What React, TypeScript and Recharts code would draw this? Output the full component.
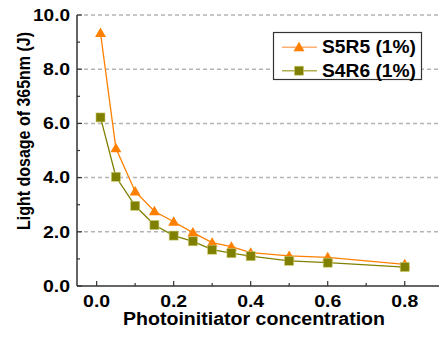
import React from 'react';
import { LineChart, Line, XAxis, YAxis, ReferenceLine } from 'recharts';

// Photoinitiator concentration (x) and light dosage (J)
const concentrations = [0.01, 0.05, 0.1, 0.15, 0.2, 0.25, 0.3, 0.35, 0.4, 0.5, 0.6, 0.8];
const s5r5 = [9.34, 5.08, 3.49, 2.76, 2.37, 1.97, 1.6, 1.45, 1.23, 1.11, 1.06, 0.8];
const s4r6 = [6.22, 4.03, 2.96, 2.25, 1.86, 1.65, 1.34, 1.21, 1.1, 0.93, 0.86, 0.7];
const seriesNames = ['S5R5 (1%)', 'S4R6 (1%)'];

const xTicks = [0, 0.1, 0.2, 0.3, 0.4, 0.5, 0.6, 0.7, 0.8];
const xMajor = [0, 0.2, 0.4, 0.6, 0.8];
const yTicks = [0, 1, 2, 3, 4, 5, 6, 7, 8, 9, 10];
const yMajor = [0, 2, 4, 6, 8, 10];
const gridValues = [2, 4, 6, 8, 10];

const ORANGE = '#ff8000';
const OLIVE = '#808000';
const AXIS = '#333333';
const FONT = '"Liberation Sans", Arial, sans-serif';

const data = concentrations.map((x, i) => ({ x, s5r5: s5r5[i], s4r6: s4r6[i] }));

const isMajor = (list: number[], v: number) => list.some((m) => Math.abs(m - v) < 1e-9);

const XTick = (props: any) => {
  const { x, y, payload } = props;
  const major = isMajor(xMajor, payload.value);
  return (
    <g>
      <line x1={x} x2={x} y1={y} y2={y - (major ? 5 : 3)} stroke={AXIS} strokeWidth={1.2} />
      {major && (
        <text x={x} y={y + 20.7} textAnchor="middle" fontFamily={FONT} fontWeight="bold" fontSize={16}
          textLength={27} lengthAdjust="spacingAndGlyphs" fill="#000">
          {payload.value.toFixed(1)}
        </text>
      )}
    </g>
  );
};

const YTick = (props: any) => {
  const { x, y, payload } = props;
  const major = isMajor(yMajor, payload.value);
  const label = payload.value.toFixed(1);
  return (
    <g>
      <line x1={x} x2={x + (major ? 5 : 3)} y1={y} y2={y} stroke={AXIS} strokeWidth={1.2} />
      {major && (
        <text x={x - 7} y={y + 5.7} textAnchor="end" fontFamily={FONT} fontWeight="bold" fontSize={16}
          textLength={label.length === 4 ? 37 : 27} lengthAdjust="spacingAndGlyphs" fill="#000">
          {label}
        </text>
      )}
    </g>
  );
};

const Triangle = ({ cx, cy, color }: any) => (
  <polygon points={`${cx},${cy - 5.5} ${cx + 5.5},${cy + 4} ${cx - 5.5},${cy + 4}`} fill={color} />
);
const Square = ({ cx, cy, color }: any) => (
  <rect x={cx - 4.5} y={cy - 4.5} width={9} height={9} fill={color} stroke="#c8c870" strokeWidth={0.6} />
);

const renderTriangle = (p: any) => <Triangle key={`t-${p.index}`} cx={p.cx} cy={p.cy} color={ORANGE} />;
const renderSquare = (p: any) => <Square key={`s-${p.index}`} cx={p.cx} cy={p.cy} color={OLIVE} />;

export default function App() {
  return (
    <div style={{ position: 'absolute', left: 0, top: 0, width: 439, height: 337, background: '#fff' }}>
      <LineChart width={439} height={337} data={data} margin={{ top: 15, right: 0, bottom: 0, left: 0 }}>
        {gridValues.map((v) => (
          <ReferenceLine key={v} y={v} stroke="#b4b4b4" strokeWidth={1.5} strokeDasharray="4 3" />
        ))}
        <XAxis
          type="number"
          dataKey="x"
          domain={[-0.051, 0.889]}
          ticks={xTicks}
          allowDataOverflow
          height={51}
          tickSize={0}
          tickMargin={0}
          tickLine={false}
          axisLine={{ stroke: AXIS, strokeWidth: 1.5 }}
          tick={<XTick />}
          interval={0}
        />
        <YAxis
          type="number"
          domain={[0, 10]}
          ticks={yTicks}
          width={77}
          tickSize={0}
          tickMargin={0}
          tickLine={false}
          axisLine={{ stroke: AXIS, strokeWidth: 1.5 }}
          tick={<YTick />}
          interval={0}
        />
        <Line type="linear" dataKey="s5r5" name={seriesNames[0]} stroke={ORANGE} strokeWidth={1.3}
          dot={renderTriangle} activeDot={false} isAnimationActive={false} />
        <Line type="linear" dataKey="s4r6" name={seriesNames[1]} stroke={OLIVE} strokeWidth={1.3}
          dot={renderSquare} activeDot={false} isAnimationActive={false} />
      </LineChart>
      <svg width={439} height={337} style={{ position: 'absolute', left: 0, top: 0, pointerEvents: 'none' }}>
        {/* legend */}
        <g transform="translate(273,32)">
          <rect x={0.5} y={0.5} width={148} height={47} fill="#fff" stroke={AXIS} strokeWidth={1.2} />
          {seriesNames.map((name, i) => {
            const cy = 15.3 + i * 23.4;
            const triangle = i === 0;
            return (
              <g key={name}>
                <line x1={9} x2={44} y1={cy} y2={cy} stroke={triangle ? '#ffb070' : '#b0b050'} strokeWidth={1.5} />
                {triangle ? <Triangle cx={26} cy={cy} color={ORANGE} /> : <Square cx={26} cy={cy} color={OLIVE} />}
                <text x={49} y={cy + 6} fontFamily={FONT} fontWeight="bold" fontSize={18}
                  textLength={94} lengthAdjust="spacingAndGlyphs" fill="#000">
                  {name}
                </text>
              </g>
            );
          })}
        </g>
        <text x={254} y={325} textAnchor="middle" fontFamily={FONT} fontWeight="bold" fontSize={18}
          textLength={262} lengthAdjust="spacingAndGlyphs" fill="#000">
          Photoinitiator concentration
        </text>
        <text transform="translate(30,131) scale(1.15,1) rotate(-90)" x={0} y={0} textAnchor="middle"
          fontFamily={FONT} fontWeight="bold" fontSize={16} textLength={198} lengthAdjust="spacingAndGlyphs" fill="#000">
          Light dosage of 365nm (J)
        </text>
      </svg>
    </div>
  );
}
